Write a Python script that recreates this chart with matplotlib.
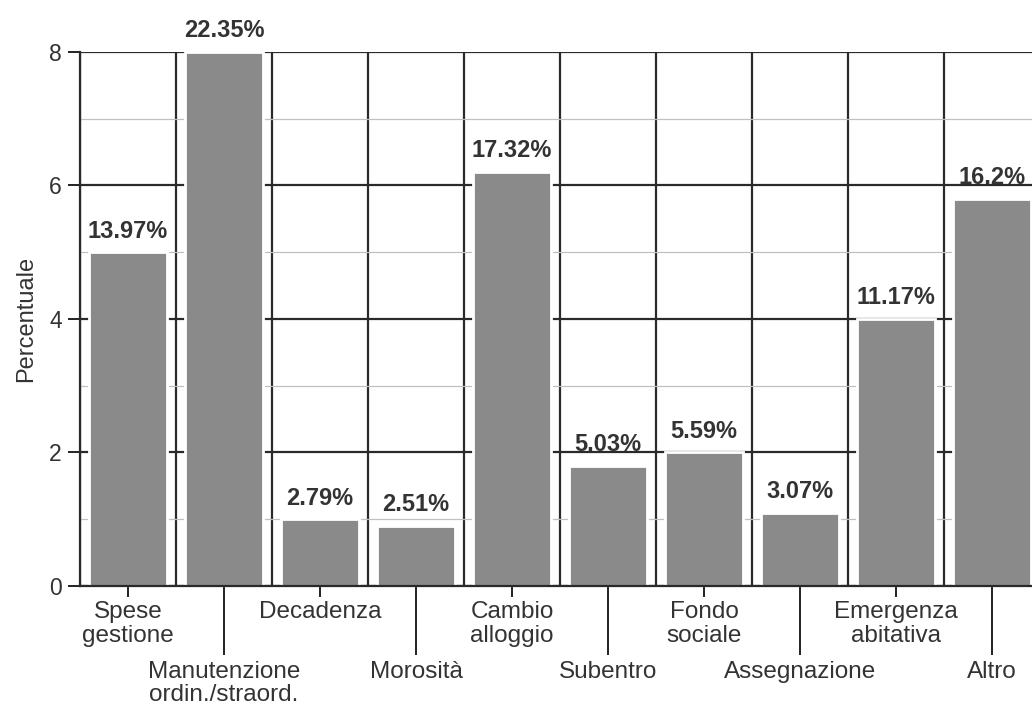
import matplotlib
matplotlib.use("Agg")
import matplotlib.pyplot as plt
from matplotlib.ticker import FixedLocator

plt.rcParams['font.family'] = ['Liberation Sans', 'DejaVu Sans']

categories = ["Spese\ngestione", "Manutenzione\nordin./straord.", "Decadenza", "Morosità",
              "Cambio\nalloggio", "Subentro", "Fondo\nsociale", "Assegnazione",
              "Emergenza\nabitativa", "Altro"]
values = [5.0, 8.0, 1.0, 0.9, 6.2, 1.8, 2.0, 1.1, 4.0, 5.8]
pct_labels = ["13.97%", "22.35%", "2.79%", "2.51%", "17.32%", "5.03%", "5.59%",
              "3.07%", "11.17%", "16.2%"]

fig = plt.figure(figsize=(10.32, 7.14), dpi=100)
ax = fig.add_axes([0.0775, 0.1793, 0.9302, 0.7479])

n = len(categories)
x = list(range(n))

ax.set_xlim(-0.5, n - 0.5)
ax.set_ylim(0, 8)

# horizontal grid
ax.set_yticks([0, 2, 4, 6, 8])
ax.set_yticks([1, 3, 5, 7], minor=True)
ax.grid(axis='y', which='major', color='#2a2a2a', linewidth=1.6, zorder=0)
ax.grid(axis='y', which='minor', color='#c0c0c0', linewidth=0.9, zorder=0)
ax.tick_params(axis='y', which='major', length=9, width=1.4, labelsize=16.5, pad=4, color='#222222')
ax.tick_params(axis='y', which='minor', length=0)

# vertical separators between categories
for b in range(n + 1):
    ax.axvline(b - 0.5, color='#2a2a2a', linewidth=1.6, zorder=0)

bars = ax.bar(x, values, width=0.82, color='#8a8a8a', edgecolor='white', linewidth=2.0, zorder=2)

for xi, v, lab in zip(x, values, pct_labels):
    ax.annotate(lab, (xi, v), xytext=(0, 7), textcoords='offset points',
                ha='center', va='bottom', fontsize=17, fontweight='bold', color='#333333',
                annotation_clip=False, zorder=3)

# x ticks: even categories upper row, odd categories lower row with long ticks
even = [i for i in x if i % 2 == 0]
odd = [i for i in x if i % 2 == 1]
ax.xaxis.set_major_locator(FixedLocator(even))
ax.xaxis.set_minor_locator(FixedLocator(odd))
ax.set_xticklabels([categories[i] for i in even])
ax.set_xticklabels([categories[i] for i in odd], minor=True)
ax.tick_params(axis='x', which='major', length=8, width=1.4, labelsize=17.5, pad=3, color='#222222',
               labelcolor='#333333')
ax.tick_params(axis='x', which='minor', length=50, width=1.4, labelsize=17.5, pad=4, color='#222222',
               labelcolor='#333333')
for t in ax.xaxis.get_majorticklabels() + ax.xaxis.get_minorticklabels():
    t.set_linespacing(1.08)

for s in ['top', 'right']:
    ax.spines[s].set_visible(False)
ax.spines['left'].set_color('#2a2a2a')
ax.spines['left'].set_linewidth(1.6)
ax.spines['bottom'].set_color('#2a2a2a')
ax.spines['bottom'].set_linewidth(1.6)
ax.tick_params(axis='y', labelcolor='#333333')

ax.set_ylabel("Percentuale", fontsize=17, color='#333333', labelpad=9)

fig.savefig("out.png", dpi=100)
